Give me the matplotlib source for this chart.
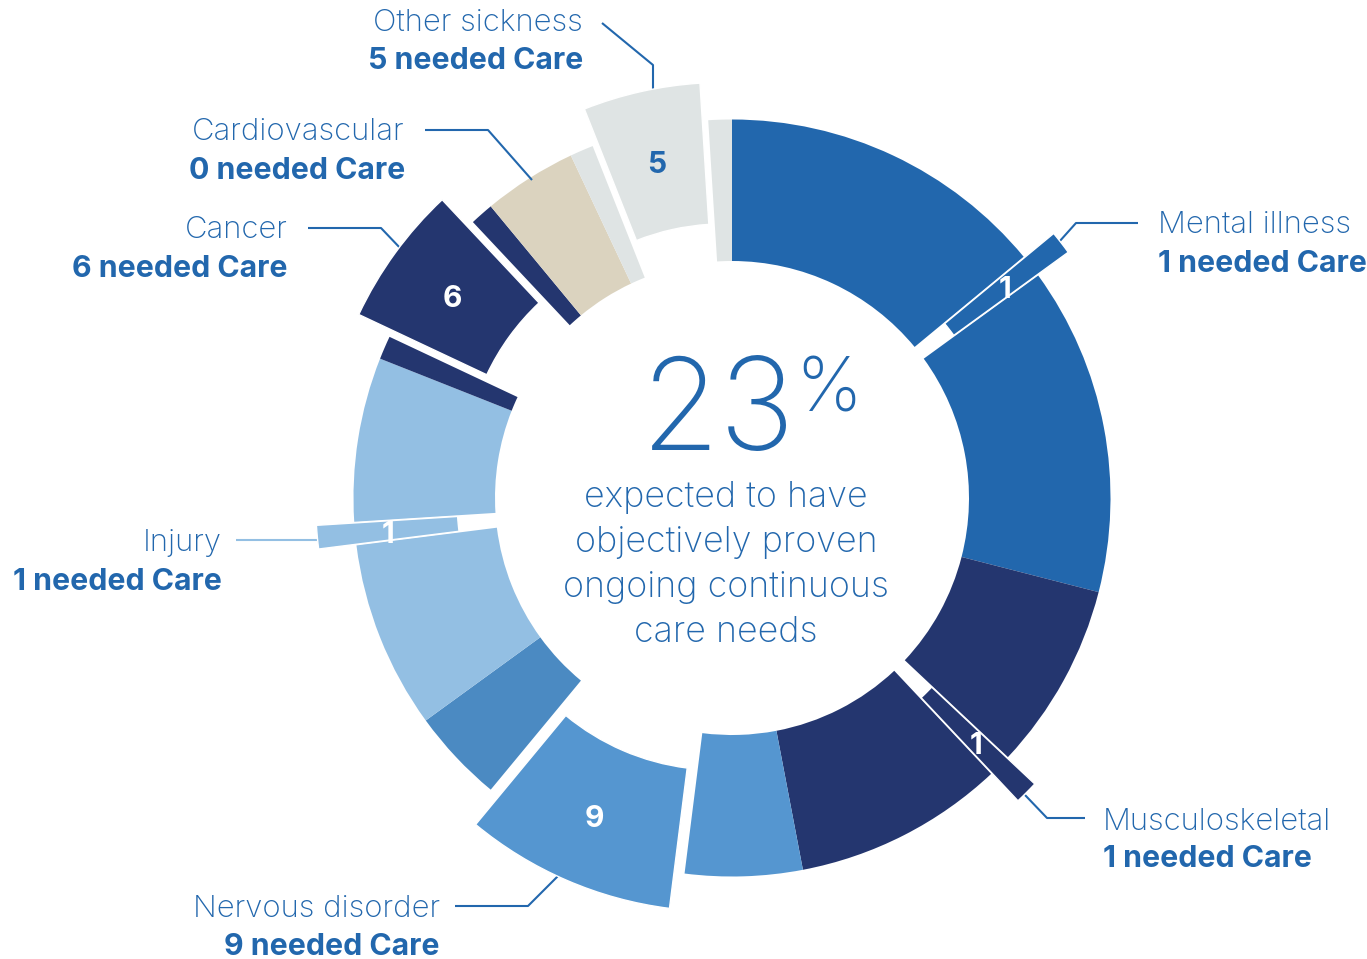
import matplotlib
matplotlib.use("Agg")
import matplotlib.pyplot as plt
import numpy as np

# ---------------- data ----------------
categories = ["Mental illness", "Musculoskeletal", "Nervous disorder", "Injury",
              "Cancer", "Cardiovascular", "Other sickness"]
totals = [29, 18, 18, 16, 8, 4, 7]          # share of all cases (sums to 100)
needed = [1, 1, 9, 1, 6, 0, 5]              # needed care (exploded slice)
before = [14, 8, 5, 8, 1, 4, 1]             # part of the category drawn before the exploded slice
headline_pct = 23

# ---------------- styles ----------------
BLUE = "#2267AD"
cat_colors = ["#2267AD", "#24366F", "#5596D0", "#93BFE3", "#24366F", "#DBD3BF", "#DFE4E4"]
after_colors = ["#2267AD", "#24366F", "#4B8AC2", "#93BFE3", "#24366F", "#DBD3BF", "#DFE4E4"]
num_colors = ["white", "white", "white", "white", "white", "white", BLUE]
line_colors = [BLUE, BLUE, BLUE, "#93BFE3", BLUE, BLUE, BLUE]

W, H = 1367, 959
CX, CY_IMG = 732, 498
R_OUT, R_IN = 378.5, 237
EXPLODE_PX = 38
NUM_DY = -4  # small downward nudge of the slice numbers (pixels)

def Y(y):  # image y (down) -> data y (up)
    return H - y

FONT = ["Inter", "DejaVu Sans"]
plt.rcParams["font.family"] = FONT

fig = plt.figure(figsize=(W / 100, H / 100), dpi=100)
ax = fig.add_axes([0, 0, 1, 1])

# build segments: before / needed / after for each category
vals, cols, expl, seg_cat, is_need = [], [], [], [], []
for i, (t, n, b) in enumerate(zip(totals, needed, before)):
    a = t - n - b
    parts = [(b, cat_colors[i], False), (n, cat_colors[i], True), (a, after_colors[i], False)]
    for v, c, e in parts:
        if v <= 0:
            continue
        vals.append(v)
        cols.append(c)
        expl.append(EXPLODE_PX if e else 0.0)
        seg_cat.append(i)
        is_need.append(e)

wedges, _ = ax.pie(vals, colors=cols, explode=expl, startangle=90, counterclock=False,
                   radius=R_OUT, center=(CX, Y(CY_IMG)),
                   wedgeprops=dict(width=R_OUT - R_IN, linewidth=0))

for w, need, ci in zip(wedges, is_need, seg_cat):
    if need:
        w.set_edgecolor("white")
        w.set_linewidth(1.0)
        w.set_zorder(3)
        mid = np.deg2rad((w.theta1 + w.theta2) / 2)
        rmid = w.r - w.width / 2
        x = w.center[0] + rmid * np.cos(mid)
        y = w.center[1] + rmid * np.sin(mid) + NUM_DY
        ax.text(x, y, str(needed[ci]), ha="center", va="center", fontsize=21.5,
                fontweight="bold", color=num_colors[ci], zorder=5)

ax.set_xlim(0, W)
ax.set_ylim(0, H)
ax.set_aspect("equal")
ax.axis("off")

# ---------------- labels & leader lines (layout in image pixels) ----------------
label_layout = {
    # name: (x, baseline1, baseline2, ha, leader path)
    "Other sickness":   (583, 31, 69, "right", [(602, 23), (653, 65), (653, 90)]),
    "Cardiovascular":   (405, 140, 179, "right", [(425, 130), (488, 130), (532, 180)]),
    "Cancer":           (288, 238, 277, "right", [(308, 228), (381, 228), (402, 250)]),
    "Injury":           (222, 551, 590, "right", [(236, 540), (320, 540)]),
    "Nervous disorder": (440, 917, 955, "right", [(455, 906), (528, 906), (558, 876)]),
    "Mental illness":   (1158, 233, 272, "left", [(1138, 223), (1076, 223), (1059, 242)]),
    "Musculoskeletal":  (1103, 830, 867, "left", [(1085, 818), (1047, 818), (1025, 795)]),
}

for i, name in enumerate(categories):
    x, b1, b2, ha, path = label_layout[name]
    ax.text(x, Y(b1), name, ha=ha, va="baseline", fontsize=22.4, fontweight="light", color=BLUE)
    ax.text(x, Y(b2), f"{needed[i]} needed Care", ha=ha, va="baseline", fontsize=21.8,
            fontweight="bold", color=BLUE)
    px = [p[0] for p in path]
    py = [Y(p[1]) for p in path]
    ax.plot(px, py, color=line_colors[i], lw=1.5, solid_capstyle="butt", zorder=2)

# ---------------- center text ----------------
ax.text(796, Y(450), f"{headline_pct}", ha="right", va="baseline", fontsize=92,
        fontweight="light", color=BLUE)
ax.text(795, Y(412), "%", ha="left", va="baseline", fontsize=54, fontweight="light", color=BLUE)
center_lines = ["expected to have", "objectively proven", "ongoing continuous", "care needs"]
for k, line in enumerate(center_lines):
    ax.text(726, Y(507 + 45 * k), line, ha="center", va="baseline", fontsize=25.8,
            fontweight="light", color=BLUE)

fig.savefig("out.png", dpi=100)
